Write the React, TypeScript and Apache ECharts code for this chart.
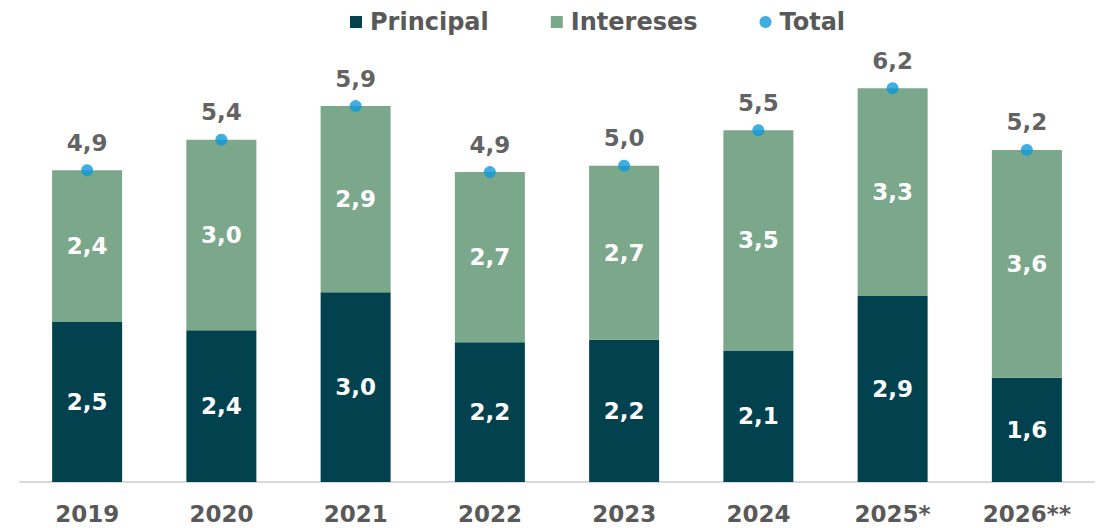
import React, { useEffect, useRef } from "react";
import * as echarts from "echarts";

const categories = ["2019", "2020", "2021", "2022", "2023", "2024", "2025*", "2026**"];
const principal = [2.52, 2.39, 2.99, 2.2, 2.24, 2.07, 2.93, 1.64];
const intereses = [2.39, 3.0, 2.93, 2.68, 2.74, 3.47, 3.27, 3.59];
const total = [4.91, 5.39, 5.92, 4.88, 4.98, 5.54, 6.2, 5.23];

const FONT = '"DejaVu Sans", Verdana, sans-serif';
const fmt = (v: number) => (Math.round(v * 10) / 10).toFixed(1).replace(".", ",");

export default function App() {
  const ref = useRef<HTMLDivElement>(null);
  useEffect(() => {
    if (!ref.current) return;
    const chart = echarts.init(ref.current, undefined, { renderer: "svg" });
    const inside = {
      show: true,
      position: "inside",
      formatter: (p: any) => fmt(p.value),
      fontFamily: FONT,
      fontSize: 23,
      fontWeight: "bold",
      color: "#ffffff",
    };
    chart.setOption({
      animation: false,
      backgroundColor: "#ffffff",
      textStyle: { fontFamily: FONT },
      legend: {
        left: 345,
        top: 5,
        itemWidth: 12,
        itemHeight: 12,
        itemGap: 62,
        textStyle: {
          fontFamily: FONT,
          fontSize: 24,
          fontWeight: "bold",
          color: "#595959",
          padding: [0, 0, 0, 3],
        },
        data: [
          { name: "Principal", icon: "rect" },
          { name: "Intereses", icon: "rect" },
          { name: "Total", icon: "circle" },
        ],
      },
      grid: { left: 20, right: 15, top: 37.5, bottom: 46, containLabel: false },
      xAxis: {
        type: "category",
        data: categories,
        axisLine: { show: true, lineStyle: { color: "#D9D9D9", width: 2 } },
        axisTick: { show: false },
        axisLabel: { fontFamily: FONT, fontSize: 23, fontWeight: "bold", color: "#595959", margin: 20 },
      },
      yAxis: { type: "value", min: 0, max: 7, show: false, splitLine: { show: false } },
      series: [
        {
          name: "Principal",
          type: "bar",
          stack: "t",
          barWidth: 70,
          data: principal,
          itemStyle: { color: "#02424F" },
          label: inside,
        },
        {
          name: "Intereses",
          type: "bar",
          stack: "t",
          barWidth: 70,
          data: intereses,
          itemStyle: { color: "#7BA78B" },
          label: inside,
        },
        {
          name: "Total",
          type: "scatter",
          data: total,
          symbol: "circle",
          symbolSize: 12,
          itemStyle: { color: "#0F9AD8" },
          z: 5,
          label: {
            show: true,
            position: "top",
            distance: 10,
            formatter: (p: any) => fmt(p.value),
            fontFamily: FONT,
            fontSize: 23,
            fontWeight: "bold",
            color: "#383838",
          },
        },
      ],
    });
    return () => chart.dispose();
  }, []);
  return (
    <div
      ref={ref}
      style={{ position: "fixed", left: 0, top: 0, width: 1109, height: 528 }}
    />
  );
}
